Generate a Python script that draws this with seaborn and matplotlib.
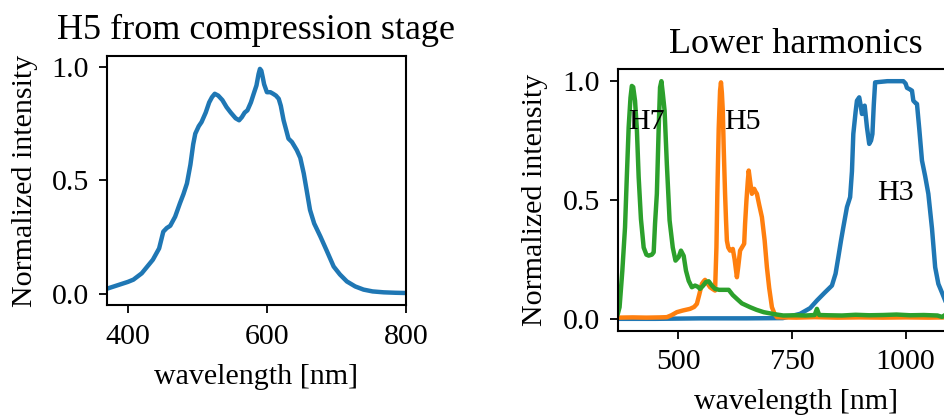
import matplotlib
matplotlib.use("Agg")
import matplotlib.pyplot as plt
import seaborn as sns
import numpy as np
from matplotlib.ticker import MultipleLocator

# ---------------- data ----------------
# Left panel: H5 from compression stage
h5c_wl = [369, 385, 400, 408, 420, 436, 445, 451, 456, 461, 468, 475, 480, 485,
          490, 494, 497, 502, 506, 512, 517, 521, 525, 530, 536, 542, 548, 555,
          560, 564, 568, 572, 577, 581, 585, 588, 590, 592, 594, 596, 600, 605,
          609, 613, 617, 620, 624, 628, 631, 636, 643, 648, 653, 657, 662, 668,
          677, 686, 696, 705, 715, 727, 739, 752, 768, 785, 800]
h5c_int = [0.021, 0.037, 0.052, 0.062, 0.09, 0.15, 0.2, 0.274, 0.29, 0.30, 0.34,
           0.40, 0.44, 0.487, 0.57, 0.66, 0.707, 0.74, 0.758, 0.80, 0.845, 0.868,
           0.883, 0.875, 0.855, 0.824, 0.80, 0.775, 0.766, 0.78, 0.80, 0.81, 0.845,
           0.883, 0.92, 0.97, 0.993, 0.985, 0.956, 0.925, 0.89, 0.89, 0.883, 0.875,
           0.861, 0.83, 0.766, 0.72, 0.685, 0.67, 0.634, 0.60, 0.531, 0.46, 0.37,
           0.31, 0.252, 0.19, 0.12, 0.085, 0.054, 0.032, 0.018, 0.01, 0.006, 0.004,
           0.003]

# Right panel: lower harmonics
h3_wl = [367, 450, 550, 650, 730, 768, 790, 805, 822, 838, 846, 852, 858, 863,
         871, 878, 882, 885, 890, 893, 898, 901, 904, 907, 910, 915, 920, 924,
         927, 930, 933, 960, 995, 1000, 1003, 1010, 1014, 1017, 1021, 1025, 1030,
         1036, 1043, 1050, 1058, 1065, 1072, 1080, 1087, 1095, 1105, 1120, 1150]
h3_int = [0.0, 0.0, 0.002, 0.002, 0.003, 0.021, 0.045, 0.077, 0.11, 0.14, 0.19,
          0.259, 0.33, 0.385, 0.47, 0.512, 0.62, 0.778, 0.87, 0.918, 0.932, 0.90,
          0.862, 0.88, 0.897, 0.806, 0.736, 0.75, 0.778, 0.9, 0.995, 1.0, 1.0,
          0.99, 0.972, 0.965, 0.96, 0.918, 0.91, 0.904, 0.8, 0.666, 0.6, 0.526,
          0.38, 0.217, 0.147, 0.11, 0.077, 0.045, 0.02, 0.008, 0.004]

h5_wl = [367, 400, 430, 460, 475, 485, 497, 510, 526, 535, 541, 546, 552, 556,
         559, 564, 570, 576, 581, 584, 586, 589, 592, 594, 596, 598, 600, 603,
         605, 607, 610, 614, 617, 620, 624, 629, 632, 636, 640, 645, 647, 650,
         653, 655, 658, 662, 665, 667, 670, 673, 678, 684, 690, 695, 700, 706,
         712, 717, 730, 760, 800, 850, 900, 950, 1000, 1050, 1090, 1120, 1150]
h5_int = [0.005, 0.006, 0.005, 0.006, 0.007, 0.015, 0.028, 0.035, 0.042, 0.05,
          0.063, 0.1, 0.147, 0.158, 0.164, 0.15, 0.133, 0.125, 0.119, 0.3, 0.526,
          0.8, 0.96, 0.995, 0.95, 0.876, 0.72, 0.526, 0.42, 0.329, 0.3, 0.287,
          0.29, 0.294, 0.25, 0.175, 0.22, 0.287, 0.3, 0.316, 0.4, 0.498, 0.58,
          0.624, 0.58, 0.526, 0.54, 0.547, 0.535, 0.526, 0.48, 0.428, 0.33, 0.217,
          0.13, 0.049, 0.02, 0.007, 0.006, 0.005, 0.007, 0.005, 0.006, 0.005,
          0.006, 0.005, 0.006, 0.005, 0.005]

h7_wl = [367, 371, 377, 383, 387, 391, 395, 398, 401, 405, 409, 413, 418, 424,
         430, 435, 442, 446, 449, 453, 457, 460, 463, 466, 470, 475, 481, 488,
         494, 501, 506, 512, 517, 523, 530, 537, 543, 548, 555, 561, 567, 574,
         581, 590, 600, 611, 620, 629, 640, 658, 672, 688, 710, 731, 760, 780,
         800, 805, 810, 830, 860, 890, 920, 950, 980, 1010, 1040, 1070, 1080,
         1090, 1110, 1150]
h7_int = [0.02, 0.049, 0.2, 0.385, 0.6, 0.806, 0.93, 0.98, 0.975, 0.918, 0.8,
          0.596, 0.42, 0.30, 0.27, 0.266, 0.27, 0.28, 0.4, 0.526, 0.8, 0.974,
          1.0, 0.95, 0.876, 0.65, 0.414, 0.3, 0.245, 0.26, 0.287, 0.265, 0.203,
          0.16, 0.133, 0.14, 0.135, 0.126, 0.14, 0.155, 0.158, 0.14, 0.126, 0.122,
          0.122, 0.122, 0.1, 0.084, 0.065, 0.049, 0.038, 0.028, 0.02, 0.014, 0.015,
          0.014, 0.016, 0.042, 0.016, 0.015, 0.014, 0.017, 0.015, 0.016, 0.018,
          0.015, 0.016, 0.014, 0.008, 0.02, 0.016, 0.016]

labels = ["H7", "H5", "H3"]
label_x = [390, 600, 938]
label_y = [0.80, 0.80, 0.50]

# ---------------- style ----------------
plt.rcParams["font.family"] = ["Liberation Serif", "DejaVu Serif"]
plt.rcParams["font.size"] = 21.6
plt.rcParams["axes.linewidth"] = 1.5
plt.rcParams["axes.labelpad"] = 10
plt.rcParams["xtick.major.width"] = 1.3
plt.rcParams["ytick.major.width"] = 1.3
plt.rcParams["xtick.major.size"] = 6
plt.rcParams["ytick.major.size"] = 6
plt.rcParams["xtick.major.pad"] = 7.5
plt.rcParams["ytick.major.pad"] = 7

blue, orange, green = sns.color_palette("tab10")[:3]

fig = plt.figure(figsize=(9.45, 4.2), dpi=100)
ax1 = fig.add_axes([0.1132, 0.2738, 0.3164, 0.5929])
ax2 = fig.add_axes([0.6537, 0.2126, 0.3768, 0.6224])

sns.lineplot(x=h5c_wl, y=h5c_int, ax=ax1, color=blue, lw=3.2)
ax1.set_xlim(370, 800)
ax1.set_ylim(-0.05, 1.05)
ax1.xaxis.set_major_locator(MultipleLocator(200))
ax1.yaxis.set_major_locator(MultipleLocator(0.5))
ax1.set_title("H5 from compression stage", fontsize=26, pad=12)
ax1.set_xlabel("wavelength [nm]")
ax1.set_ylabel("Normalized intensity")

sns.lineplot(x=h3_wl, y=h3_int, ax=ax2, color=blue, lw=3.2)
sns.lineplot(x=h5_wl, y=h5_int, ax=ax2, color=orange, lw=3.2)
sns.lineplot(x=h7_wl, y=h7_int, ax=ax2, color=green, lw=3.2)
ax2.set_xlim(367, 1150)
ax2.set_ylim(-0.05, 1.05)
ax2.xaxis.set_major_locator(MultipleLocator(250))
ax2.yaxis.set_major_locator(MultipleLocator(0.5))
ax2.set_title("Lower harmonics", fontsize=26, pad=12)
ax2.set_xlabel("wavelength [nm]")
ax2.set_ylabel("Normalized intensity")
for t, xx, yy in zip(labels, label_x, label_y):
    ax2.text(xx, yy, t, fontsize=21.6)

fig.savefig("out.png", dpi=100)
